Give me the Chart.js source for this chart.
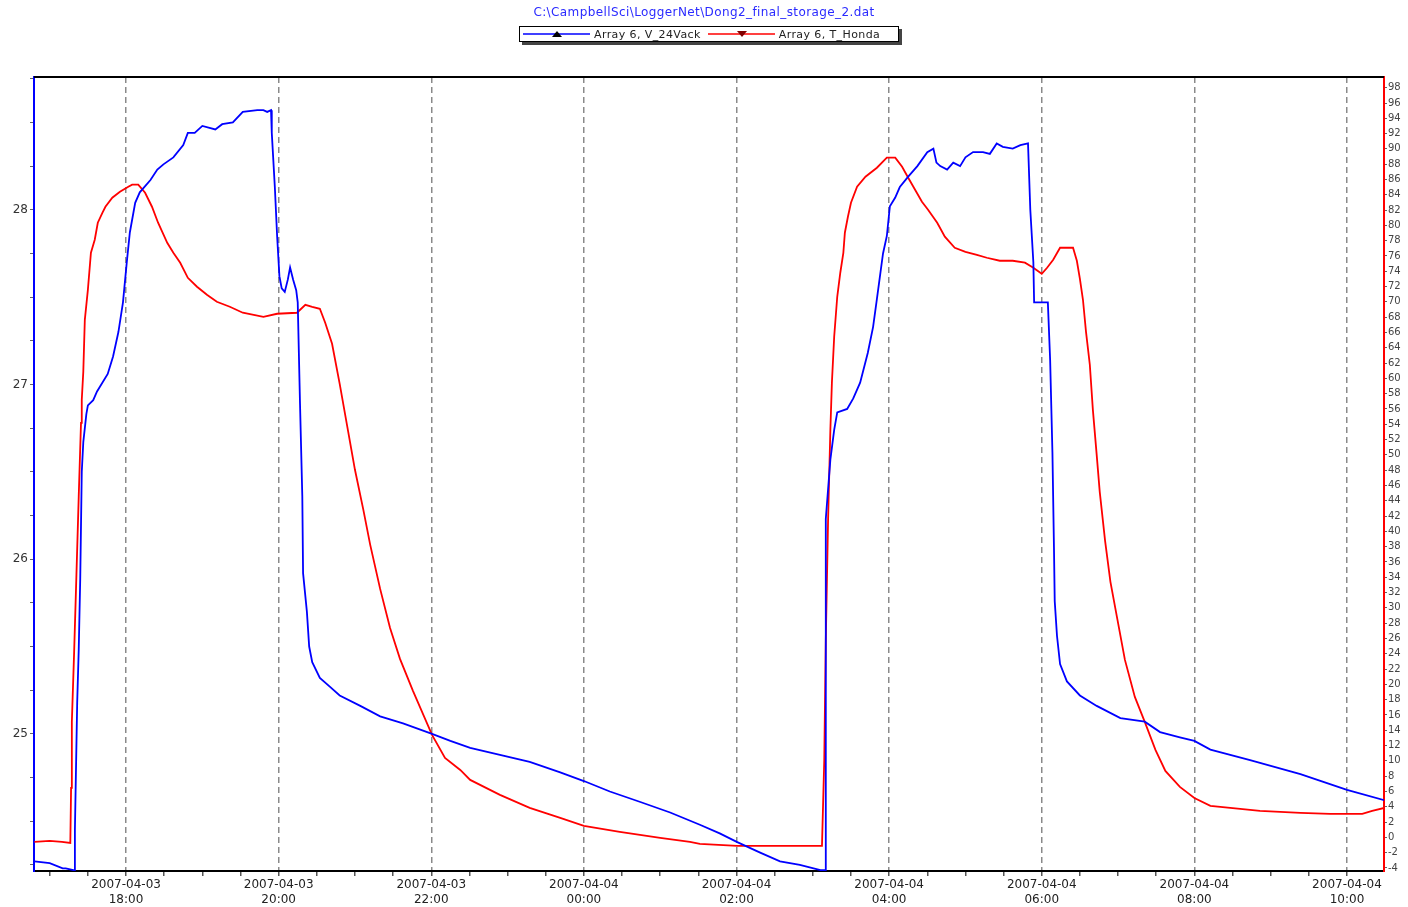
<!DOCTYPE html>
<html>
<head>
<meta charset="utf-8">
<title>Dong2_final_storage_2</title>
<script src="https://cdn.jsdelivr.net/npm/chart.js@4.4.1/dist/chart.umd.min.js"></script>
<style>
    html, body { margin: 0; padding: 0; background: #fff; }
    #wrap { position: relative; width: 1408px; height: 907px; }
    #chart { position: absolute; left: 0; top: 0; }
    #title {
        position: absolute; left: 0; top: 5px; width: 1408px;
        text-align: center; color: #2a2aff;
        font: 12px "DejaVu Sans", sans-serif; letter-spacing: 0.4px;
    }
    #legend {
        position: absolute; left: 519px; top: 26px; width: 378px; height: 14px;
        border: 1px solid #000; background: #fff;
        box-shadow: 3px 3px 0 #444;
        display: flex; align-items: center;
        font: 11px "DejaVu Sans", sans-serif; color: #222; letter-spacing: 0.4px;
        white-space: nowrap;
    }
    #legend .item { display: flex; align-items: center; margin-left: 3px; margin-right: 4px; }
    #legend svg { margin-right: 4px; }
</style>
</head>
<body>
<div id="wrap">
    <canvas id="chart" width="1408" height="907"></canvas>
    <div id="title">C:\CampbellSci\LoggerNet\Dong2_final_storage_2.dat</div>
    <div id="legend"></div>
</div>
<script>
// series names / colours
const seriesNames = ['Array 6, V_24Vack', 'Array 6, T_Honda'];
const seriesColors = ['#0000ff', '#ff0000'];

// x axis: hours counted from 2007-04-03 00:00
const xTickHours = [18, 20, 22, 24, 26, 28, 30, 32, 34];
const xTickDates = ['2007-04-03', '2007-04-03', '2007-04-03', '2007-04-04', '2007-04-04',
                    '2007-04-04', '2007-04-04', '2007-04-04', '2007-04-04'];
const xTickTimes = ['18:00', '20:00', '22:00', '00:00', '02:00', '04:00', '06:00', '08:00', '10:00'];
const leftTickLabels = [25, 26, 27, 28];

// V_24Vack (left axis)
const vHours = [16.80, 17.00, 17.17, 17.21, 17.31, 17.32, 17.33, 17.36, 17.38, 17.40,
    17.42, 17.44, 17.48, 17.50, 17.57, 17.62, 17.76, 17.83, 17.90, 17.96,
    18.01, 18.05, 18.12, 18.18, 18.32, 18.41, 18.49, 18.62, 18.75, 18.81,
    18.90, 19.00, 19.17, 19.26, 19.40, 19.53, 19.72, 19.80, 19.85, 19.90,
    19.91, 19.95, 19.98, 20.01, 20.04, 20.08, 20.12, 20.15, 20.19, 20.23,
    20.25, 20.28, 20.31, 20.32, 20.37, 20.40, 20.44, 20.54, 20.67, 20.80,
    21.07, 21.33, 21.63, 22.01, 22.25, 22.51, 22.90, 23.29, 23.69, 24.00,
    24.34, 24.74, 25.13, 25.52, 25.78, 26.01, 26.31, 26.57, 26.83, 27.10,
    27.16, 27.17, 27.23, 27.28, 27.32, 27.45, 27.53, 27.62, 27.72, 27.79,
    27.84, 27.88, 27.92, 27.97, 28.01, 28.08, 28.14, 28.25, 28.37, 28.50,
    28.58, 28.62, 28.67, 28.76, 28.84, 28.93, 29.00, 29.10, 29.23, 29.32,
    29.41, 29.49, 29.62, 29.72, 29.82, 29.85, 29.89, 29.90, 30.08, 30.11,
    30.14, 30.16, 30.17, 30.20, 30.24, 30.33, 30.50, 30.72, 31.03, 31.35,
    31.55, 31.81, 32.00, 32.21, 32.73, 33.39, 34.00, 34.49];
const vValues = [24.27, 24.26, 24.23, 24.23, 24.22, 24.22, 24.45, 25.18, 25.48, 25.89,
    26.50, 26.67, 26.83, 26.88, 26.91, 26.96, 27.06, 27.16, 27.30, 27.47,
    27.70, 27.87, 28.04, 28.10, 28.17, 28.23, 28.26, 28.30, 28.37, 28.44,
    28.44, 28.48, 28.46, 28.49, 28.50, 28.56, 28.57, 28.57, 28.56, 28.57,
    28.44, 28.13, 27.85, 27.62, 27.55, 27.53, 27.60, 27.67, 27.60, 27.54,
    27.47, 26.89, 26.36, 25.92, 25.70, 25.50, 25.41, 25.32, 25.27, 25.22,
    25.16, 25.10, 25.06, 25.00, 24.96, 24.92, 24.88, 24.84, 24.78, 24.73,
    24.67, 24.61, 24.55, 24.48, 24.43, 24.38, 24.32, 24.27, 24.25, 24.22,
    24.22, 26.23, 26.57, 26.74, 26.84, 26.86, 26.92, 27.01, 27.18, 27.33,
    27.49, 27.62, 27.75, 27.85, 28.02, 28.07, 28.13, 28.19, 28.25, 28.33,
    28.35, 28.27, 28.25, 28.23, 28.27, 28.25, 28.30, 28.33, 28.33, 28.32,
    28.38, 28.36, 28.35, 28.37, 28.38, 28.00, 27.70, 27.47, 27.47, 27.14,
    26.61, 26.07, 25.76, 25.56, 25.40, 25.30, 25.22, 25.16, 25.09, 25.07,
    25.01, 24.98, 24.96, 24.91, 24.85, 24.77, 24.68, 24.62];

// T_Honda (right axis)
const tHours = [16.80, 17.00, 17.16, 17.27, 17.28, 17.29, 17.32, 17.35, 17.38, 17.41,
    17.42, 17.44, 17.46, 17.50, 17.54, 17.59, 17.63, 17.69, 17.73, 17.82,
    17.92, 18.03, 18.08, 18.16, 18.25, 18.34, 18.42, 18.54, 18.62, 18.71,
    18.81, 18.93, 19.06, 19.19, 19.36, 19.53, 19.80, 19.98, 20.24, 20.35,
    20.44, 20.54, 20.61, 20.70, 20.80, 20.90, 21.00, 21.11, 21.20, 21.33,
    21.46, 21.59, 21.76, 22.01, 22.18, 22.38, 22.51, 22.90, 23.29, 23.69,
    24.00, 24.47, 25.00, 25.39, 25.52, 26.01, 26.57, 27.10, 27.12, 27.15,
    27.17, 27.20, 27.23, 27.25, 27.28, 27.32, 27.36, 27.40, 27.42, 27.46,
    27.50, 27.58, 27.69, 27.84, 27.97, 28.08, 28.17, 28.25, 28.34, 28.43,
    28.51, 28.63, 28.73, 28.86, 29.00, 29.15, 29.28, 29.45, 29.62, 29.78,
    29.89, 30.00, 30.07, 30.15, 30.24, 30.41, 30.46, 30.50, 30.54, 30.58,
    30.63, 30.67, 30.72, 30.76, 30.83, 30.90, 30.99, 31.09, 31.22, 31.35,
    31.49, 31.62, 31.81, 32.00, 32.21, 32.47, 32.86, 33.39, 33.78, 34.20,
    34.33, 34.49];
const tValues = [-0.60, -0.47, -0.60, -0.73, 6.46, 15.09, 24.25, 34.31, 44.51, 54.19,
    57.20, 60.86, 67.66, 71.58, 76.42, 78.12, 80.35, 81.65, 82.44, 83.62,
    84.40, 85.05, 85.32, 85.32, 84.27, 82.44, 80.35, 77.73, 76.42, 75.12,
    73.15, 71.98, 70.93, 70.02, 69.36, 68.58, 68.05, 68.45, 68.58, 69.62,
    69.36, 69.10, 67.27, 64.52, 59.29, 53.67, 48.05, 42.81, 38.24, 32.48,
    27.38, 23.33, 19.15, 13.39, 10.38, 8.81, 7.51, 5.55, 3.85, 2.54,
    1.49, 0.71, -0.08, -0.60, -0.86, -1.12, -1.12, -1.12, -1.12, 10.12,
    25.81, 41.51, 53.28, 59.42, 65.44, 70.67, 73.81, 76.42, 79.04, 81.13,
    82.96, 85.05, 86.36, 87.54, 88.85, 88.85, 87.67, 86.23, 84.66, 83.09,
    82.05, 80.35, 78.52, 77.08, 76.55, 76.16, 75.77, 75.38, 75.38, 75.12,
    74.46, 73.68, 74.46, 75.51, 77.08, 77.08, 75.38, 73.02, 70.28, 66.09,
    61.78, 55.89, 50.01, 45.17, 38.76, 33.40, 28.56, 23.20, 18.36, 15.09,
    11.43, 8.68, 6.59, 5.15, 4.11, 3.85, 3.45, 3.19, 3.06, 3.06,
    3.45, 3.85];

function toPoints(xs, ys) {
    return xs.map((x, i) => ({ x: x, y: ys[i] }));
}

function findTick(list, value) {
    return list.findIndex(v => Math.abs(v - value) < 1e-6);
}

function buildLegend() {
    const box = document.getElementById('legend');
    seriesNames.forEach((name, i) => {
        const marker = i === 0
            ? '<polygon points="29,9 39,9 34,3" fill="#000"/>'
            : '<polygon points="29,3 39,3 34,9" fill="#800000"/>';
        const item = document.createElement('span');
        item.className = 'item';
        item.innerHTML = '<svg width="67" height="12"><line x1="0" y1="6" x2="67" y2="6" stroke="' +
            seriesColors[i] + '" stroke-width="1.5"/>' + marker + '</svg><span>' + name + '</span>';
        box.appendChild(item);
    });
}

// black frame line along the top of the plot
const topFrame = {
    id: 'topFrame',
    afterDraw(chart) {
        const { ctx, chartArea } = chart;
        ctx.save();
        ctx.strokeStyle = '#000';
        ctx.lineWidth = 2;
        ctx.beginPath();
        ctx.moveTo(chartArea.left, chartArea.top);
        ctx.lineTo(chartArea.right, chartArea.top);
        ctx.stroke();
        ctx.restore();
    }
};

document.addEventListener('DOMContentLoaded', () => {
    buildLegend();

    const ctx = document.getElementById('chart').getContext('2d');
    new Chart(ctx, {
        type: 'line',
        data: {
            datasets: [
                {
                    label: seriesNames[0],
                    data: toPoints(vHours, vValues),
                    yAxisID: 'yV',
                    borderColor: seriesColors[0],
                    borderWidth: 1.8,
                    pointRadius: 0,
                    tension: 0
                },
                {
                    label: seriesNames[1],
                    data: toPoints(tHours, tValues),
                    yAxisID: 'yT',
                    borderColor: seriesColors[1],
                    borderWidth: 1.8,
                    pointRadius: 0,
                    tension: 0
                }
            ]
        },
        options: {
            responsive: false,
            animation: false,
            devicePixelRatio: 1,
            layout: { padding: { top: 77, left: 0, right: 0, bottom: 0 } },
            plugins: {
                legend: { display: false },
                title: { display: false },
                tooltip: { enabled: false }
            },
            scales: {
                x: {
                    type: 'linear',
                    min: 16.794,
                    max: 34.485,
                    afterFit: (scale) => { scale.height = 36; },
                    border: { color: '#000', width: 2, dash: [6, 4] },
                    grid: {
                        color: (c) => findTick(xTickHours, c.tick.value) >= 0 ? '#8a8a8a' : 'rgba(0,0,0,0)',
                        lineWidth: 1.5,
                        tickColor: '#555',
                        tickLength: 5,
                        drawTicks: true
                    },
                    ticks: {
                        stepSize: 0.5,
                        includeBounds: false,
                        autoSkip: false,
                        maxRotation: 0,
                        padding: 2,
                        color: '#222',
                        font: { family: 'DejaVu Sans', size: 12 },
                        callback: (value) => {
                            const i = findTick(xTickHours, value);
                            return i >= 0 ? [xTickDates[i], xTickTimes[i]] : '';
                        }
                    }
                },
                yV: {
                    type: 'linear',
                    position: 'left',
                    min: 24.215,
                    max: 28.76,
                    afterFit: (scale) => { scale.width = 34; },
                    border: { color: seriesColors[0], width: 2 },
                    grid: {
                        drawOnChartArea: false,
                        tickColor: '#666',
                        tickLength: 4
                    },
                    ticks: {
                        stepSize: 0.25,
                        includeBounds: false,
                        autoSkip: false,
                        padding: 2,
                        color: '#333',
                        font: { family: 'DejaVu Sans', size: 12 },
                        callback: (value) => findTick(leftTickLabels, value) >= 0 ? String(value) : ''
                    }
                },
                yT: {
                    type: 'linear',
                    position: 'right',
                    min: -4.4,
                    max: 99.4,
                    afterFit: (scale) => { scale.width = 24; },
                    border: { color: seriesColors[1], width: 2 },
                    grid: {
                        drawOnChartArea: false,
                        tickColor: '#666',
                        tickLength: 3
                    },
                    ticks: {
                        stepSize: 2,
                        includeBounds: false,
                        autoSkip: false,
                        padding: 1,
                        color: '#444',
                        font: { family: 'DejaVu Sans', size: 10 },
                        callback: (value) => String(value)
                    }
                }
            }
        },
        plugins: [topFrame]
    });
});
</script>
</body>
</html>
